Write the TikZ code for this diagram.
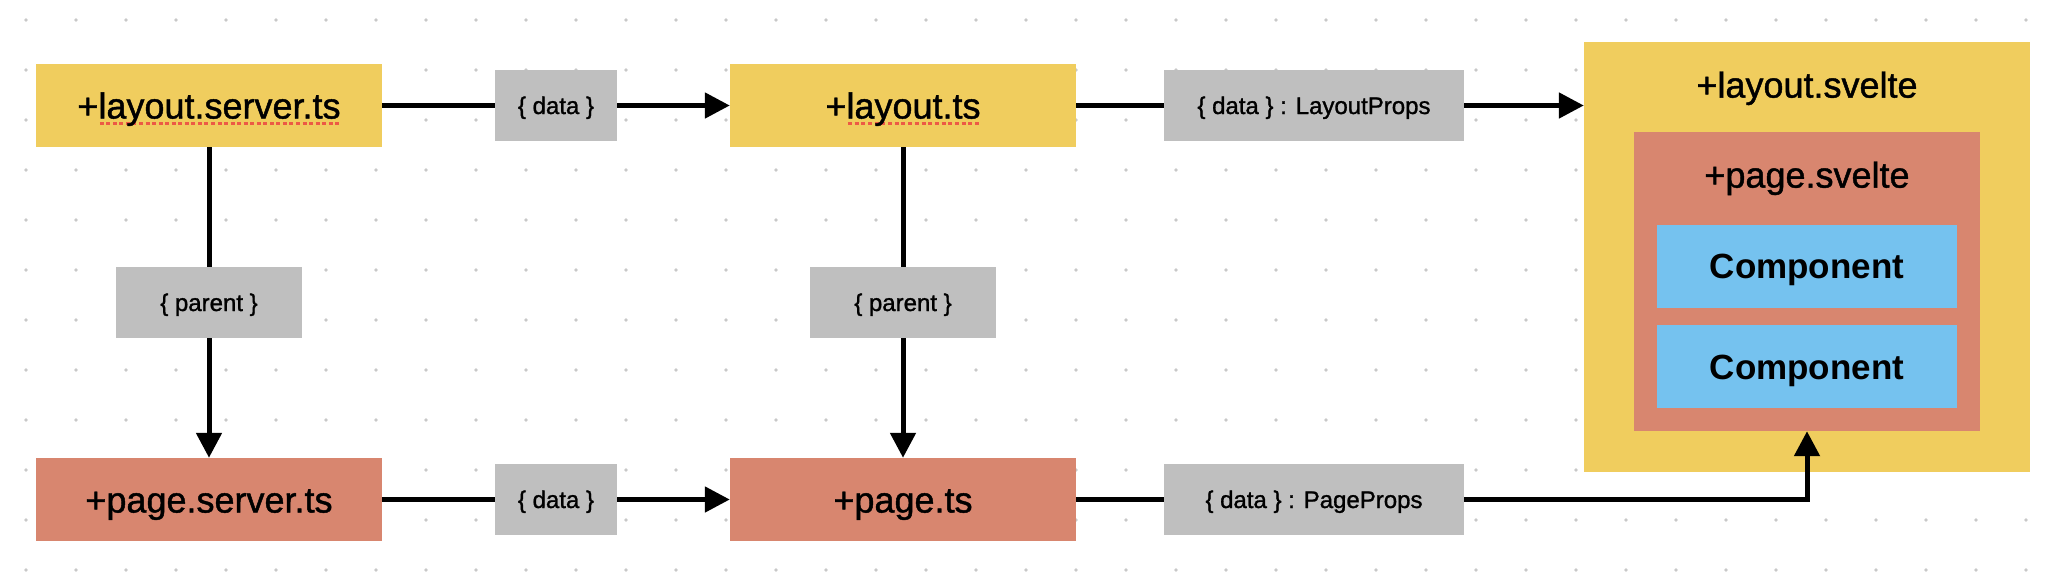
\documentclass[tikz,border=0pt]{standalone}
\usepackage{fontspec}
\setmainfont{Liberation Sans}
\newfontfamily\medfont[FakeBold=1.2]{Liberation Sans}
\usetikzlibrary{arrows.meta}
\definecolor{ylw}{HTML}{F0CD5E}
\definecolor{sal}{HTML}{D8866F}
\definecolor{blu}{HTML}{75C2EF}
\definecolor{lgray}{HTML}{BFBFBF}
\definecolor{dotc}{HTML}{C8C8C8}
\definecolor{sq}{HTML}{EC5A45}
\newcommand\spellmark[1]{\setbox0\hbox{#1}\rlap{\color{sq}\raisebox{-6.5pt}{\hbox to \wd0{\xleaders\hbox to 6.5pt{\hss\rule{4pt}{3pt}\hss}\hfil}}}\box0}
\tikzset{
  mainbox/.style={minimum width=346, minimum height=83, inner sep=0, text height=26, text depth=0, font=\medfont\fontsize{36}{40}\selectfont},
  ybox/.style={mainbox, fill=ylw},
  sbox/.style={mainbox, fill=sal},
  lbl/.style={fill=lgray, minimum height=71, inner sep=0, text height=17, text depth=0, font=\medfont\fontsize{24}{28}\selectfont},
  title/.style={inner sep=0, text height=26, text depth=0, font=\medfont\fontsize{36}{40}\selectfont},
  comp/.style={fill=blu, minimum width=300, minimum height=83, inner sep=0, text height=25, text depth=0, font=\fontsize{35}{40}\selectfont\bfseries},
  conn/.style={line width=5pt},
  arr/.style={conn, -{Triangle[length=25pt,width=25pt]}}
}
\begin{document}
\begin{tikzpicture}[x=1pt,y=-1pt]
\useasboundingbox (0,0) rectangle (2064,576);
\fill[white] (0,0) rectangle (2064,576);
\foreach \i in {0,...,40} \foreach \j in {0,...,11} \fill[dotc] (26+50*\i,20+50*\j) circle (1.8);
% nodes
\node[ybox] (ls) at (209,105.5) {+\spellmark{layout.server.ts}};
\node[sbox] (ps) at (209,499.5) {+page.server.ts};
\node[ybox] (lt) at (903,105.5) {+\spellmark{layout.ts}};
\node[sbox] (pt) at (903,499.5) {+page.ts};
\node[lbl, minimum width=122] (d1) at (556,105.5) {\{ data \}};
\node[lbl, minimum width=122] (d2) at (556,499.5) {\{ data \}};
\node[lbl, minimum width=300] (lp) at (1314,105.5) {\{ data \} : LayoutProps};
\node[lbl, minimum width=300] (pp) at (1314,499.5) {\{ data \} : PageProps};
\node[lbl, minimum width=186] (p1) at (209,302.5) {\{ parent \}};
\node[lbl, minimum width=186] (p2) at (903,302.5) {\{ parent \}};
% svelte nesting
\node[fill=ylw, minimum width=446, minimum height=430, inner sep=0] (lsv) at (1807,257) {};
\node[title] (lsvt) at (1807,84.6) {+layout.svelte};
\node[fill=sal, minimum width=346, minimum height=299, inner sep=0] (psv) at (1807,281.5) {};
\node[title] (psvt) at (1807,174.6) {+page.svelte};
\node[comp] (c1) at (1807,266.4) {Component};
\node[comp] (c2) at (1807,366.8) {Component};
% connectors
\draw[conn] (ls) -- (d1);
\draw[arr] (d1) -- (lt);
\draw[conn] (ps) -- (d2);
\draw[arr] (d2) -- (pt);
\draw[conn] (lt) -- (lp);
\draw[arr] (lp.east) -- (lp.east -| lsv.west);
\draw[conn] (pt) -- (pp);
\draw[arr] (pp.east) -| (psv.south);
\draw[conn] (ls) -- (p1);
\draw[arr] (p1) -- (ps);
\draw[conn] (lt) -- (p2);
\draw[arr] (p2) -- (pt);
\end{tikzpicture}
\end{document}
